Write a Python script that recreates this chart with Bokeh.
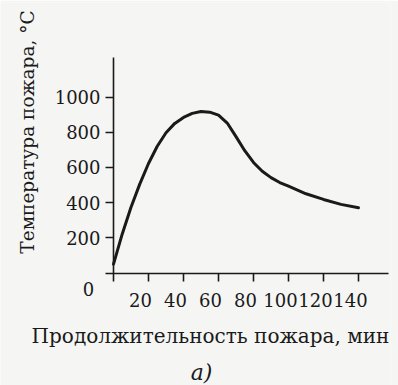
import math
from bokeh.plotting import figure
from bokeh.models import Range1d, FixedTicker, Label, LabelSet, ColumnDataSource
from bokeh.core.properties import value
from bokeh.embed import file_html
from bokeh.resources import INLINE

# ---- data ----
time_min = [0, 5, 10, 15, 20, 25, 30, 35, 40, 45, 50, 55, 60, 65, 70, 75, 80, 85, 90, 95, 100, 110, 120, 130, 140]
temp_c = [50, 222, 374, 505, 622, 720, 797, 850, 884, 907, 918, 914, 897, 852, 775, 695, 628, 578, 542, 514, 493, 450, 418, 390, 371]

x_ticks = [0, 20, 40, 60, 80, 100, 120, 140]
x_tick_labels = ["20", "40", "60", "80", "100", "120", "140"]
y_ticks = [0, 200, 400, 600, 800, 1000]
y_tick_labels = ["200", "400", "600", "800", "1000"]
x_axis_end = 157
y_axis_end = 1224

x_title = "Продолжительность пожара, мин"
y_title = "Температура пожара, °С"
caption = "а)"

# ---- layout (pixels) ----
W, H = 398, 385
FR_L, FR_R, FR_T, FR_B = 0, 390, 2, 385       # plot frame in canvas pixels
OX, OY = 113, 272.5                            # pixel position of the origin
PX_PER_MIN, PX_PER_DEG = 1.75, 0.176

BG = "#f5f5f4"
INK = "#1a1a1a"
FONT = "DejaVu Serif"

p = figure(width=W, height=H, output_backend="svg", toolbar_location=None,
           x_axis_location="above", y_axis_location="right",
           x_range=Range1d((FR_L - OX) / PX_PER_MIN, (FR_R - OX) / PX_PER_MIN),
           y_range=Range1d(-(FR_B - OY) / PX_PER_DEG, (OY - FR_T) / PX_PER_DEG),
           min_border_left=FR_L, min_border_right=W - FR_R,
           min_border_top=FR_T, min_border_bottom=H - FR_B)
p.background_fill_color = BG
p.border_fill_color = BG
p.outline_line_color = None
p.grid.visible = False

# axes drawn at the origin; ticks carried as minor ticks so that the axes draw no labels of their own
for ax, ticks, end in ((p.xaxis[0], x_ticks, x_axis_end), (p.yaxis[0], y_ticks, y_axis_end)):
    ax.fixed_location = 0
    ax.bounds = (0, end)
    ax.ticker = FixedTicker(ticks=[], minor_ticks=ticks)
    ax.axis_line_color = INK
    ax.axis_line_width = 1.6
    ax.major_tick_in = 0
    ax.major_tick_out = 0
    ax.major_tick_line_color = None
    ax.minor_tick_line_color = INK
    ax.minor_tick_line_width = 1.6
    ax.minor_tick_in = 8
    ax.minor_tick_out = 0
    ax.major_label_standoff = 0

p.line(time_min, temp_c, line_color=INK, line_width=3, line_join="round", line_cap="round")

common = dict(text_font=FONT, text_color=INK)

# tick labels
xsrc = ColumnDataSource(dict(x=x_ticks[1:], y=[0] * len(x_tick_labels), t=x_tick_labels))
p.add_layout(LabelSet(x="x", y="y", text="t", source=xsrc, x_offset=-8, y_offset=-27,
                      text_align="center", text_baseline="middle",
                      text_font=value(FONT), text_font_size="18px", text_color=INK))
ysrc = ColumnDataSource(dict(x=[0] * len(y_tick_labels), y=y_ticks[1:], t=y_tick_labels))
p.add_layout(LabelSet(x="x", y="y", text="t", source=ysrc, x_offset=-13, y_offset=0,
                      text_align="right", text_baseline="middle",
                      text_font=value(FONT), text_font_size="18px", text_color=INK))

p.add_layout(Label(x=0, y=0, x_offset=-25, y_offset=-15.5, text="0",
                   text_align="center", text_baseline="middle", text_font_size="18px", **common))
p.add_layout(Label(x=0, y=0, x_offset=97, y_offset=-62.5, text=x_title,
                   text_align="center", text_baseline="middle", text_font_size="20px", **common))
p.add_layout(Label(x=0, y=0, x_offset=-86, y_offset=141, text=y_title, angle=math.pi / 2,
                   text_align="center", text_baseline="middle", text_font_size="18.5px", **common))
p.add_layout(Label(x=0, y=0, x_offset=88, y_offset=-99.5, text=caption,
                   text_align="center", text_baseline="middle", text_font_style="italic",
                   text_font_size="22px", **common))

open("out.html", "w").write(file_html(p, INLINE))
